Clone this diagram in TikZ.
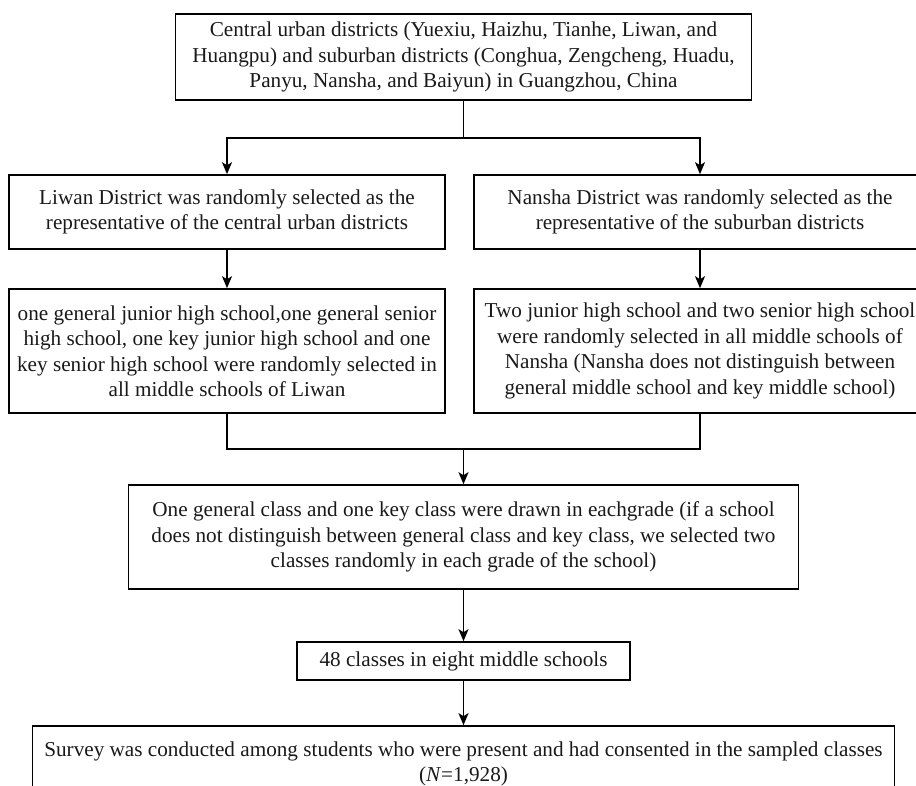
\documentclass[tikz,border=0pt]{standalone}
\usepackage{fontspec}
\setmainfont{Liberation Serif}
\usetikzlibrary{arrows.meta}
\begin{document}
\begin{tikzpicture}[x=1pt,y=-1pt,
  box/.style={draw=black,line width=1.6pt,rectangle,inner sep=0pt,align=center,
    font=\fontsize{21.2}{25.5}\selectfont,text=black!90},
  arr/.style={line width=1.6pt,-{Stealth[length=12pt,width=10pt,inset=3pt]}},
  ln/.style={line width=1.6pt}]
\useasboundingbox (0,0) rectangle (916,786);
\clip (0,0) rectangle (916,786);
\node[box,minimum width=576pt,minimum height=86pt] (top) at (463.5,57)
  {Central urban districts (Yuexiu, Haizhu, Tianhe, Liwan, and\\
   Huangpu) and suburban districts (Conghua, Zengcheng, Huadu,\\
   Panyu, Nansha, and Baiyun) in Guangzhou, China};
\node[box,minimum width=436pt,minimum height=74pt] (L2) at (227,212)
  {Liwan District was randomly selected as the\\
   representative of the central urban districts};
\node[box,minimum width=452pt,minimum height=74pt] (R2) at (700,212)
  {Nansha District was randomly selected as the\\
   representative of the suburban districts};
\node[box,minimum width=436pt,minimum height=124pt] (L3) at (227,351)
  {one general junior high school,one general senior\\
   high school, one key junior high school and one\\
   key senior high school were randomly selected in\\
   all middle schools of Liwan};
\node[box,minimum width=452pt,minimum height=124pt] (R3) at (700,351)
  {Two junior high school and two senior high school\\
   were randomly selected in all middle schools of\\
   Nansha (Nansha does not distinguish between\\
   general middle school and key middle school)};
\node[box,minimum width=670pt,minimum height=104pt] (B5) at (463.5,537)
  {One general class and one key class were drawn in eachgrade (if a school\\
   does not distinguish between general class and key class, we selected two\\
   classes randomly in each grade of the school)};
\node[box,minimum width=333pt,minimum height=38pt] (B6) at (463.5,661)
  {48 classes in eight middle schools};
\node[box,minimum width=862pt,minimum height=76pt] (B7) at (463.5,764)
  {Survey was conducted among students who were present and had consented in the sampled classes\\
   (\textit{N}=1,928)};
\coordinate (split) at (463.5,138);
\coordinate (merge) at (463.5,449);
\draw[ln] (top.south) -- (split);
\draw[arr] (split) -| (L2.north);
\draw[arr] (split) -| (R2.north);
\draw[arr] (L2.south) -- (L3.north);
\draw[arr] (R2.south) -- (R3.north);
\draw[ln] (L3.south) |- (merge) -| (R3.south);
\draw[arr] (merge) -- (B5.north);
\draw[arr] (B5.south) -- (B6.north);
\draw[arr] (B6.south) -- (B7.north);
\end{tikzpicture}
\end{document}
